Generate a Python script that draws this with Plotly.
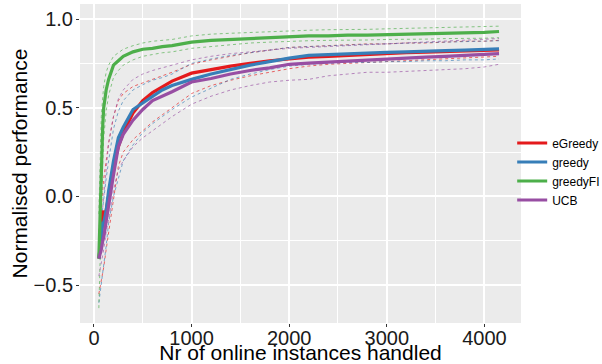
import plotly.graph_objects as go

instances = [50, 75, 90, 100, 125, 150, 200, 250, 300, 400, 500, 600, 700, 800, 1000, 1200,
             1400, 1600, 1800, 2000, 2200, 2400, 2600, 2800, 3000, 3200, 3400, 3600, 3800, 4000, 4150]

algorithms = ["eGreedy", "greedy", "greedyFI", "UCB"]
colors = {"eGreedy": "#E41A1C", "greedy": "#377EB8", "greedyFI": "#4DAF4A", "UCB": "#984EA3"}

egreedy_mean = [-0.35, -0.25, -0.08, -0.12, -0.08, 0.0, 0.17, 0.28, 0.36, 0.47, 0.54, 0.585, 0.62, 0.65, 0.695, 0.715,
                0.735, 0.75, 0.765, 0.775, 0.785, 0.79, 0.795, 0.803, 0.808, 0.81, 0.813, 0.817, 0.82, 0.823, 0.826]
egreedy_upper = [-0.2, -0.05, 0.05, 0.1, 0.2, 0.3, 0.45, 0.54, 0.58, 0.62, 0.64, 0.66, 0.68, 0.70, 0.745, 0.77,
                 0.79, 0.81, 0.825, 0.84, 0.845, 0.85, 0.855, 0.86, 0.86, 0.865, 0.865, 0.87, 0.875, 0.875, 0.88]
egreedy_lower = [-0.55, -0.48, -0.42, -0.4, -0.3, -0.2, 0.0, 0.17, 0.25, 0.32, 0.37, 0.42, 0.46, 0.5, 0.58, 0.625,
                 0.655, 0.68, 0.70, 0.72, 0.735, 0.745, 0.75, 0.755, 0.76, 0.765, 0.77, 0.775, 0.78, 0.785, 0.79]

greedy_mean = [-0.35, -0.22, -0.15, -0.15, -0.08, 0.03, 0.2, 0.33, 0.39, 0.49, 0.525, 0.565, 0.6, 0.625, 0.66, 0.69,
               0.715, 0.74, 0.76, 0.78, 0.795, 0.80, 0.805, 0.81, 0.812, 0.815, 0.82, 0.822, 0.825, 0.828, 0.832]
greedy_upper = [-0.25, -0.12, -0.05, 0.0, 0.1, 0.2, 0.38, 0.48, 0.54, 0.6, 0.63, 0.655, 0.67, 0.69, 0.75, 0.775,
                0.795, 0.81, 0.825, 0.84, 0.845, 0.85, 0.855, 0.858, 0.86, 0.865, 0.868, 0.87, 0.873, 0.875, 0.878]
greedy_lower = [-0.6, -0.5, -0.45, -0.4, -0.28, -0.15, 0.0, 0.1, 0.2, 0.29, 0.36, 0.41, 0.45, 0.49, 0.56, 0.61,
                0.66, 0.69, 0.715, 0.735, 0.745, 0.75, 0.755, 0.755, 0.76, 0.76, 0.765, 0.765, 0.77, 0.77, 0.775]

greedyfi_mean = [-0.35, 0.22, 0.4, 0.5, 0.6, 0.66, 0.74, 0.765, 0.79, 0.815, 0.83, 0.835, 0.845, 0.85, 0.87, 0.88,
                 0.885, 0.89, 0.895, 0.90, 0.905, 0.905, 0.91, 0.91, 0.912, 0.915, 0.918, 0.92, 0.922, 0.925, 0.93]
greedyfi_upper = [-0.1, 0.45, 0.56, 0.62, 0.7, 0.74, 0.79, 0.81, 0.83, 0.85, 0.865, 0.875, 0.88, 0.885, 0.905, 0.915,
                  0.92, 0.925, 0.93, 0.935, 0.937, 0.94, 0.94, 0.942, 0.945, 0.947, 0.95, 0.952, 0.955, 0.957, 0.96]
greedyfi_lower = [-0.63, -0.05, 0.2, 0.33, 0.48, 0.57, 0.67, 0.71, 0.74, 0.77, 0.79, 0.80, 0.81, 0.815, 0.835, 0.845,
                  0.855, 0.865, 0.87, 0.875, 0.878, 0.88, 0.88, 0.882, 0.885, 0.885, 0.887, 0.89, 0.89, 0.892, 0.895]

ucb_mean = [-0.35, -0.3, -0.25, -0.23, -0.14, -0.05, 0.12, 0.28, 0.35, 0.43, 0.49, 0.54, 0.565, 0.59, 0.645, 0.665,
            0.69, 0.71, 0.725, 0.745, 0.752, 0.758, 0.765, 0.77, 0.775, 0.78, 0.785, 0.79, 0.795, 0.80, 0.805]
ucb_upper = [-0.3, -0.15, -0.05, 0.0, 0.15, 0.3, 0.45, 0.55, 0.6, 0.66, 0.69, 0.71, 0.725, 0.74, 0.77, 0.79,
             0.805, 0.815, 0.825, 0.835, 0.84, 0.845, 0.85, 0.855, 0.86, 0.865, 0.87, 0.875, 0.88, 0.885, 0.89]
ucb_lower = [-0.45, -0.38, -0.33, -0.3, -0.2, -0.13, 0.035, 0.15, 0.2, 0.28, 0.33, 0.37, 0.41, 0.45, 0.52, 0.565,
             0.6, 0.625, 0.645, 0.655, 0.66, 0.68, 0.69, 0.70, 0.70, 0.705, 0.71, 0.715, 0.72, 0.73, 0.745]

series = {
    "eGreedy": (egreedy_mean, egreedy_upper, egreedy_lower),
    "greedy": (greedy_mean, greedy_upper, greedy_lower),
    "greedyFI": (greedyfi_mean, greedyfi_upper, greedyfi_lower),
    "UCB": (ucb_mean, ucb_upper, ucb_lower),
}

x_ticks = [0, 1000, 2000, 3000, 4000]
y_ticks = [-0.5, 0.0, 0.5, 1.0]
y_tick_labels = ["\u22120.5", "0.0", "0.5", "1.0"]

fig = go.Figure()

for name in algorithms:
    mean, upper, lower = series[name]
    for band in (upper, lower):
        fig.add_trace(go.Scatter(
            x=instances, y=band, mode="lines",
            line=dict(color=colors[name], width=1, dash="3px,3px"),
            opacity=0.65, showlegend=False, hoverinfo="skip"))

for name in algorithms:
    mean, upper, lower = series[name]
    fig.add_trace(go.Scatter(
        x=instances, y=mean, mode="lines", name=name,
        line=dict(color=colors[name], width=3.2)))

fig.update_layout(
    width=602, height=364,
    margin=dict(l=80, r=81, t=4, b=41, autoexpand=False),
    paper_bgcolor="white",
    plot_bgcolor="#EBEBEB",
    font=dict(family="Liberation Sans, Arial, sans-serif", color="black"),
    legend=dict(
        x=0.98, xanchor="left", y=0.475, yanchor="middle",
        font=dict(size=12, color="black"),
        bgcolor="rgba(0,0,0,0)",
        itemwidth=30, tracegroupgap=0,
    ),
)

fig.update_xaxes(
    range=[-143, 4375],
    tickvals=x_ticks, ticktext=[str(v) for v in x_ticks],
    tickfont=dict(size=20, color="#1a1a1a"),
    ticks="outside", ticklen=3, tickcolor="#333333", tickwidth=1,
    ticklabelstandoff=-6,
    showgrid=True, gridcolor="white", gridwidth=1.6,
    minor=dict(dtick=500, tick0=0, showgrid=True, gridcolor="white", gridwidth=0.8),
    zeroline=False, showline=False, automargin=False,
    title=dict(text="Nr of online instances handled", font=dict(size=21, color="black"), standoff=7),
)

fig.update_yaxes(
    range=[-0.714, 1.085],
    tickvals=y_ticks, ticktext=y_tick_labels,
    tickfont=dict(size=20, color="#1a1a1a"),
    ticks="outside", ticklen=3, tickcolor="#333333", tickwidth=1,
    ticklabelstandoff=-1,
    showgrid=True, gridcolor="white", gridwidth=1.6,
    minor=dict(dtick=0.25, tick0=0, showgrid=True, gridcolor="white", gridwidth=0.8),
    zeroline=False, showline=False, automargin=False,
    title=dict(text="Normalised performance", font=dict(size=21, color="black"), standoff=0),
)

fig.write_html("out.html", config={"displayModeBar": False},
               post_script="document.body.style.margin='0px';")
